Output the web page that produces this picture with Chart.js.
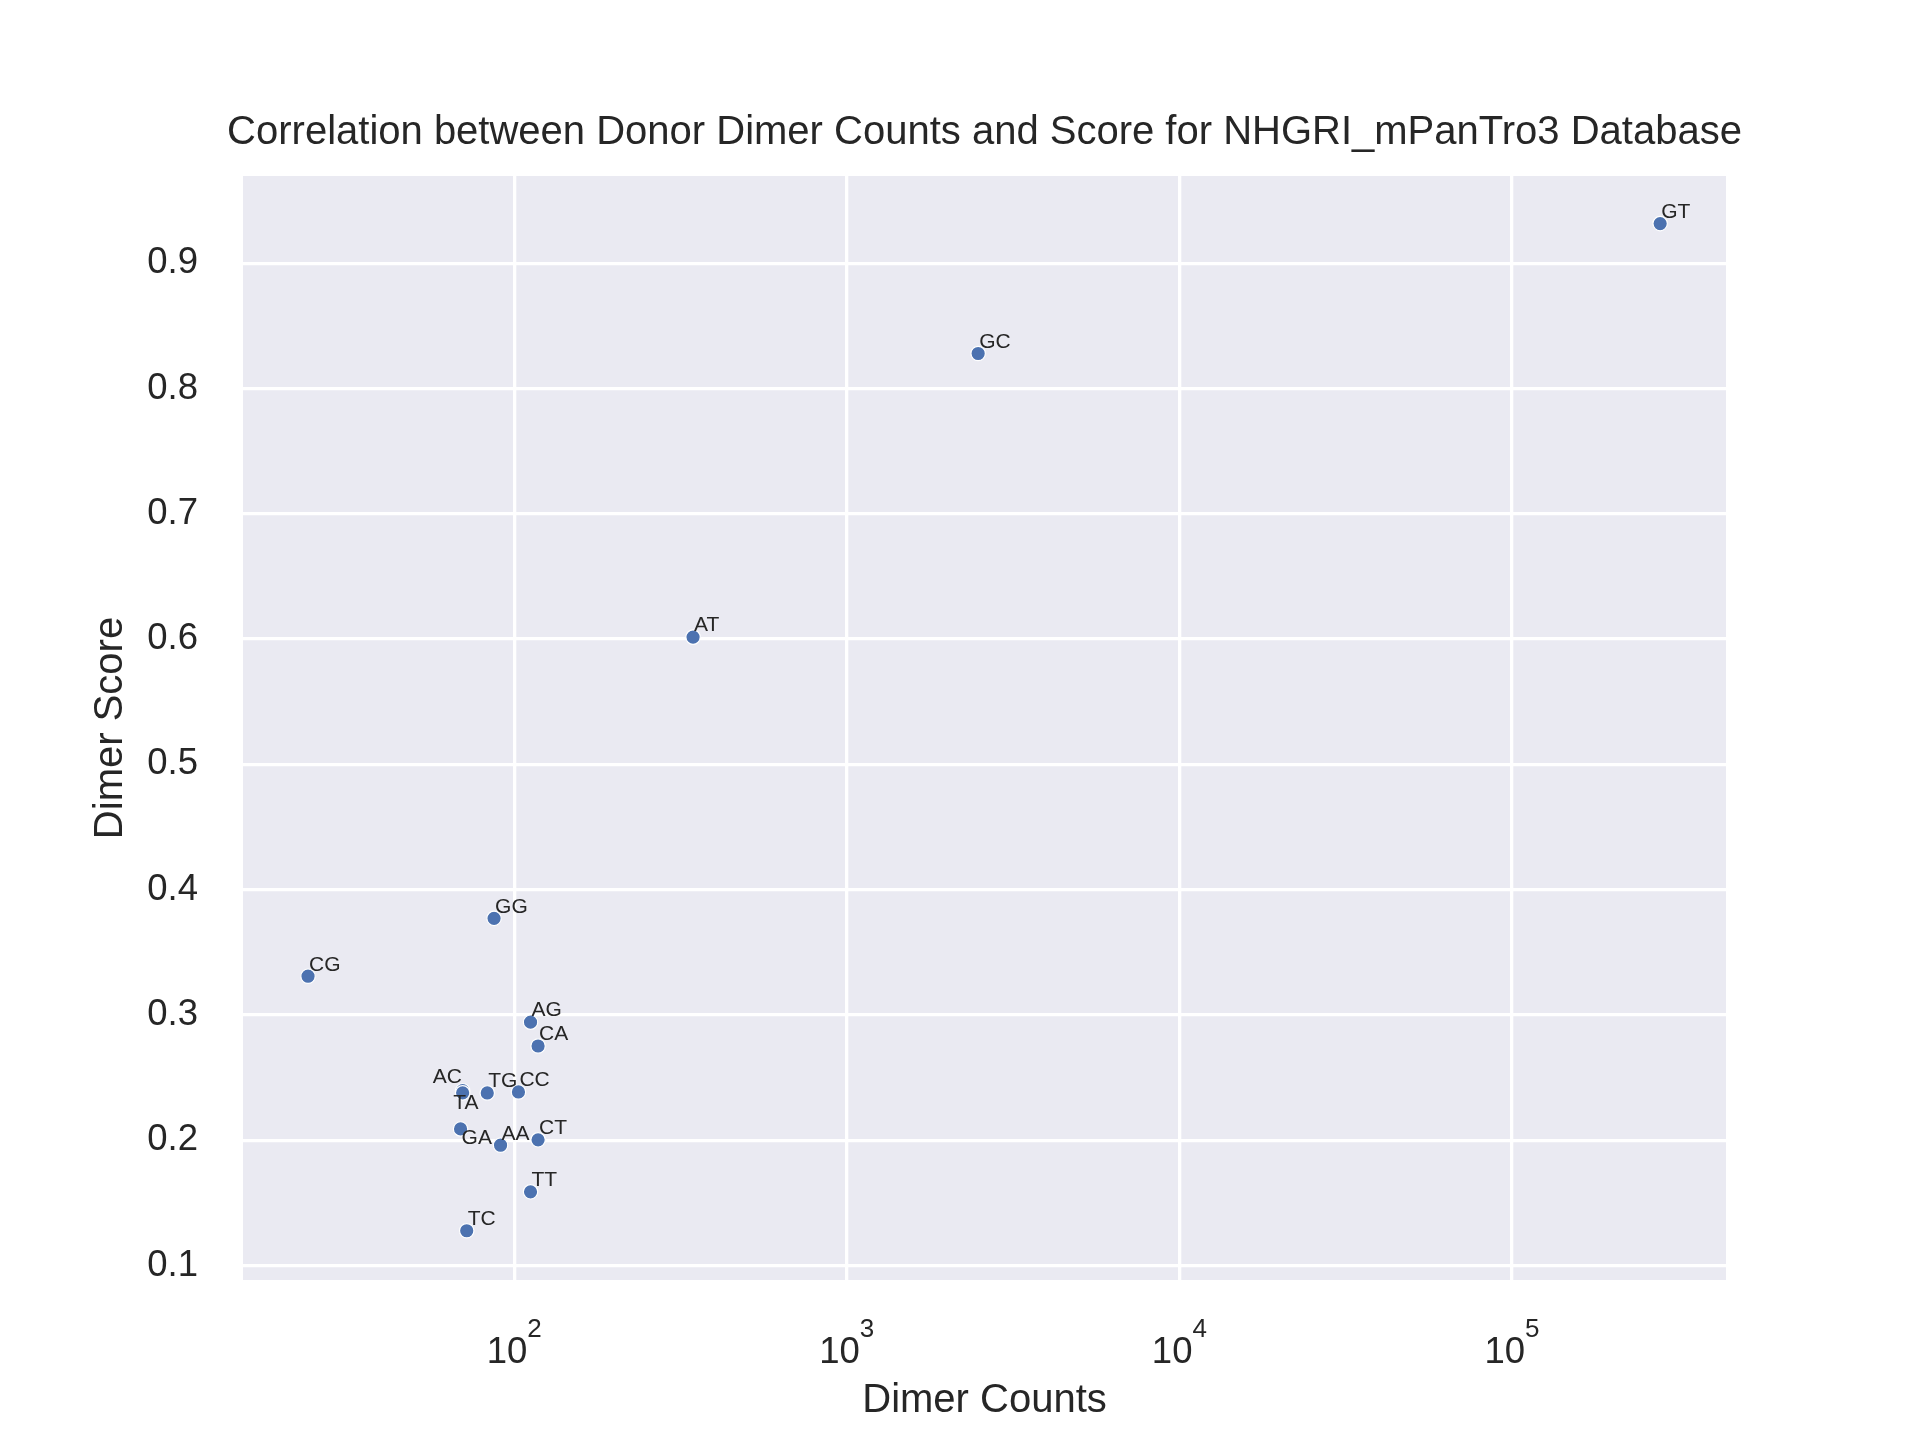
<!DOCTYPE html>
<html>
<head>
<meta charset="utf-8">
<script src="https://cdn.jsdelivr.net/npm/chart.js@4.4.1/dist/chart.umd.min.js"></script>
<style>
  html, body { margin: 0; padding: 0; background: #fff; }
  canvas { display: block; }
</style>
</head>
<body>
<canvas id="chart" width="1920" height="1440"></canvas>
<script>
// Donor dimers, their counts and scores
const dimers = ["GT", "GC", "AT", "GG", "CG", "AG", "CA", "AC", "TA", "TG", "CC", "GA", "AA", "CT", "TT", "TC"]
const counts = [278900, 2483, 345, 87, 24, 112, 118, 70, 70, 83, 103, 69, 91, 118, 112, 72]
const scores = [0.9317, 0.828, 0.6016, 0.3771, 0.3309, 0.2942, 0.2752, 0.2395, 0.2378, 0.2377, 0.2385, 0.209, 0.196, 0.2003, 0.1588, 0.1277]

const xTicks = [100, 1000, 10000, 100000]
const yTicks = [0.1, 0.2, 0.3, 0.4, 0.5, 0.6, 0.7, 0.8, 0.9]

// label nudges in px (left/baseline anchor), default sits just above-right of the dot
const labelNudge = { AC: [-30, -7.5], TA: [-9.5, 16.6], GA: [1, 15.3] }
const defaultNudge = [1, -5.7]

const textColor = "#262626"
const dotColor = "#4C72B0"
const panelColor = "#EAEAF2"
const fontFamily = "'Liberation Sans', Arial, sans-serif"

const panelBackground = {
  id: "panelBackground",
  beforeDraw(chart) {
    const { ctx, chartArea: a } = chart
    ctx.save()
    ctx.fillStyle = panelColor
    ctx.fillRect(a.left, a.top, a.right - a.left, a.bottom - a.top)
    ctx.restore()
  }
}

const pointLabels = {
  id: "pointLabels",
  afterDatasetsDraw(chart) {
    const { ctx, scales: { x, y } } = chart
    ctx.save()
    ctx.font = "21px " + fontFamily
    ctx.fillStyle = textColor
    ctx.textAlign = "left"
    ctx.textBaseline = "alphabetic"
    dimers.forEach((name, i) => {
      const [dx, dy] = labelNudge[name] || defaultNudge
      ctx.fillText(name, x.getPixelForValue(counts[i]) + dx, y.getPixelForValue(scores[i]) + dy)
    })
    ctx.restore()
  }
}

// 10^n tick labels, drawn like mathtext
const powerTicks = {
  id: "powerTicks",
  afterDraw(chart) {
    const { ctx, scales: { x }, chartArea } = chart
    const base = chartArea.bottom + 82.7
    const supBase = chartArea.bottom + 57
    ctx.save()
    ctx.fillStyle = textColor
    ctx.textAlign = "left"
    ctx.textBaseline = "alphabetic"
    xTicks.forEach(v => {
      const exp = String(Math.round(Math.log10(v)))
      ctx.font = "36.5px " + fontFamily
      const w1 = ctx.measureText("10").width
      ctx.font = "26px " + fontFamily
      const w2 = ctx.measureText(exp).width
      const start = x.getPixelForValue(v) - (w1 + w2) / 2
      ctx.font = "36.5px " + fontFamily
      ctx.fillText("10", start, base)
      ctx.font = "26px " + fontFamily
      ctx.fillText(exp, start + w1, supBase)
    })
    ctx.restore()
  }
}

new Chart(document.getElementById("chart"), {
  type: "scatter",
  data: {
    datasets: [{
      label: "Dimer Score",
      data: counts.map((c, i) => ({ x: c, y: scores[i] })),
      backgroundColor: dotColor,
      borderColor: "#ffffff",
      borderWidth: 1.2,
      pointRadius: 7.2,
      pointHoverRadius: 7.2
    }]
  },
  options: {
    responsive: false,
    devicePixelRatio: 1,
    animation: false,
    events: [],
    layout: { padding: { left: 49, right: 0, top: 0, bottom: 0 } },
    plugins: {
      legend: { display: false },
      tooltip: { enabled: false },
      title: {
        display: true,
        text: "Correlation between Donor Dimer Counts and Score for NHGRI_mPanTro3 Database",
        color: textColor,
        font: { family: fontFamily, size: 40, weight: "normal" },
        padding: { top: 108.8, bottom: 19.2 }
      }
    },
    scales: {
      x: {
        type: "logarithmic",
        min: 15.3,
        max: 440000,
        bounds: "data",
        afterBuildTicks: s => { s.ticks = xTicks.map(v => ({ value: v })) },
        afterFit: s => { s.height = 160 },
        ticks: { display: false },
        grid: { color: "#ffffff", lineWidth: 3.3, drawTicks: false },
        border: { display: false },
        title: {
          display: true,
          text: "Dimer Counts",
          color: textColor,
          font: { family: fontFamily, size: 40 },
          padding: { top: 0, bottom: 14.9 }
        }
      },
      y: {
        min: 0.0884,
        max: 0.9697,
        bounds: "data",
        afterBuildTicks: s => { s.ticks = yTicks.map(v => ({ value: v })) },
        afterFit: s => { s.width = 194 },
        ticks: {
          padding: 45,
          color: textColor,
          font: { family: fontFamily, size: 36.5 },
          callback: v => v.toFixed(1)
        },
        grid: { color: "#ffffff", lineWidth: 3.3, drawTicks: false },
        border: { display: false },
        title: {
          display: true,
          text: "Dimer Score",
          color: textColor,
          font: { family: fontFamily, size: 40 },
          padding: { top: 38.1, bottom: 0 }
        }
      },
      // empty right-hand axis, only reserves the right margin
      y2: {
        position: "right",
        afterFit: s => { s.width = 194 },
        ticks: { display: false },
        grid: { display: false },
        border: { display: false }
      }
    }
  },
  plugins: [panelBackground, pointLabels, powerTicks]
})
</script>
</body>
</html>
